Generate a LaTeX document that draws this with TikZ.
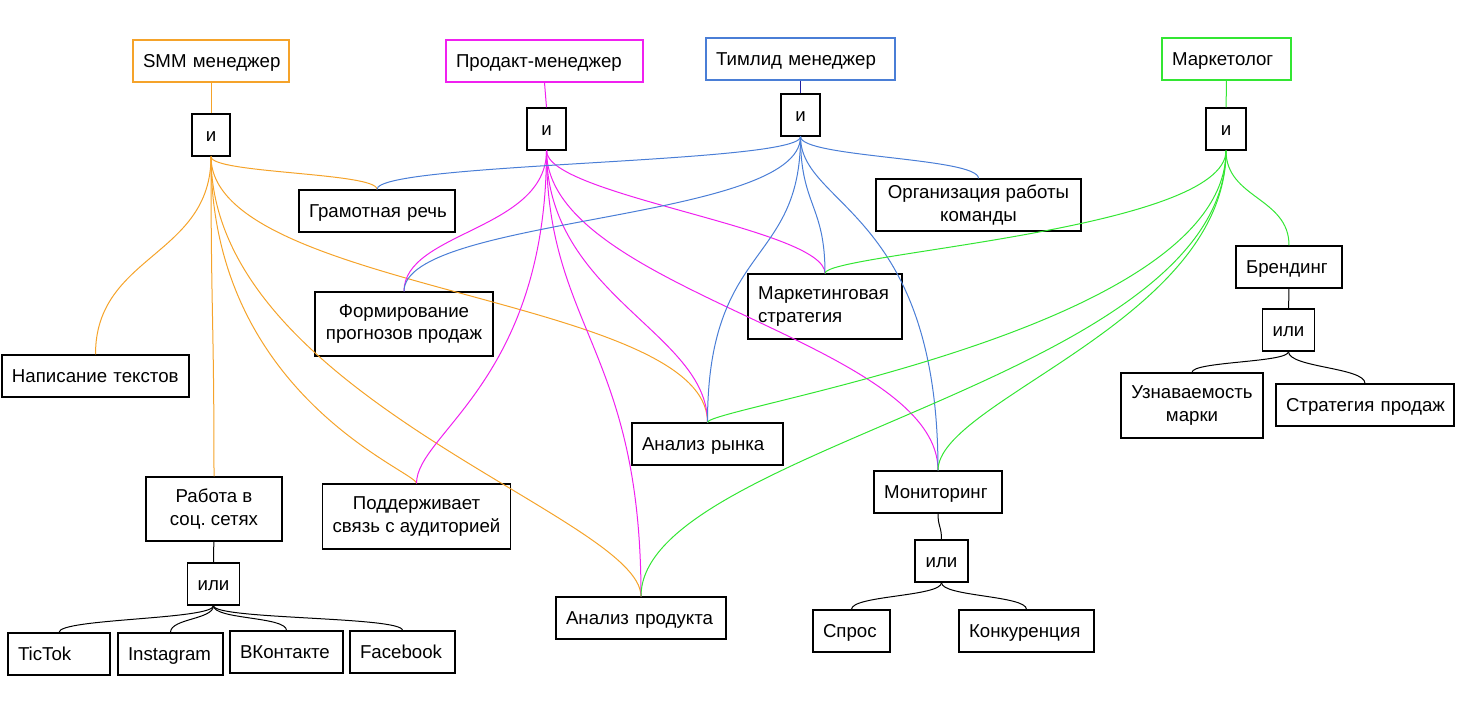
\documentclass[tikz,border=0pt]{standalone}
\usepackage{fontspec}
\setmainfont{Liberation Sans}
\usepackage{tikz}
\usetikzlibrary{positioning}

\definecolor{smmcol}{HTML}{F5A32A}
\definecolor{prodcol}{HTML}{F020F0}
\definecolor{teamcol}{HTML}{4A7ED6}
\definecolor{teamdark}{HTML}{20209F}
\definecolor{markcol}{HTML}{33E633}
\newcommand{\boxfont}{\fontsize{18.67}{22.5}\selectfont}

\begin{document}
\begin{tikzpicture}[
    x=1pt, y=-1pt,
    box/.style={draw, line width=1.25pt, inner xsep=10pt, inner ysep=0pt, minimum height=42pt, font=\boxfont},
    lbox/.style={box, text width=#1, align=left, text height=16.9pt, text depth=4pt},
    cbox/.style={box, minimum width=#1, align=center, text height=16.9pt, text depth=4pt},
    tall/.style={box, minimum width=#1, minimum height=64pt, align=center},
    link/.style={line width=1pt}
]
\useasboundingbox (0,0) rectangle (1461,717);

% roles
\node[lbox=136pt, draw=smmcol] (smm) at (211,61) {SMM~менеджер};
\node[lbox=177pt, draw=prodcol] (prod) at (544.5,61) {Продакт-менеджер};
\node[lbox=169pt, draw=teamcol] (team) at (800.5,59) {Тимлид~менеджер};
\node[lbox=109pt, draw=markcol] (market) at (1226.5,59) {Маркетолог};

% gates
\node[cbox=38pt] (smmand) at (211,135) {и};
\node[cbox=39pt] (prodand) at (546.5,129) {и};
\node[cbox=39pt] (teamand) at (800.5,115) {и};
\node[cbox=40pt] (markand) at (1226,129) {и};
\node[cbox=51pt] (socor) at (213.5,584) {или};
\node[cbox=53pt] (monor) at (941.5,561) {или};
\node[cbox=51pt] (brandor) at (1288.5,330) {или};

% skills
\node[lbox=136pt] (gram) at (377,211) {Грамотная~речь};
\node[lbox=167pt] (writing) at (95.5,376) {Написание~текстов};
\node[tall=178pt] (form) at (404,324) {Формирование\\прогнозов~продаж};
\node[tall=205pt, minimum height=52pt] (org) at (978.5,205) {Организация~работы\\команды};
\node[box, text width=134pt, align=left, minimum height=65pt] (strat) at (825,306.5) {Маркетинговая\\стратегия};
\node[lbox=86pt] (brand) at (1289,267) {Брендинг};
\node[tall=142pt, minimum height=65pt] (recog) at (1192,405.5) {Узнаваемость\\марки};
\node[lbox=158pt] (sales) at (1365,405) {Стратегия~продаж};
\node[lbox=131pt] (marketan) at (707.5,444) {Анализ~рынка};
\node[lbox=108pt] (mon) at (938,492) {Мониторинг};
\node[lbox=57pt] (demand) at (851.5,631) {Спрос};
\node[lbox=115pt] (compet) at (1026.5,631) {Конкуренция};
\node[lbox=150pt] (product) at (641,618) {Анализ~продукта};
\node[tall=136pt] (soc) at (214,509) {Работа~в\\соц.~сетях};
\node[tall=187pt, minimum height=65pt] (aud) at (416.5,516.5) {Поддерживает\\связь~с~аудиторией};
\node[lbox=82pt] (tiktok) at (59,654) {TicTok};
\node[lbox=85pt] (insta) at (170.5,654) {Instagram};
\node[lbox=93pt] (vk) at (286.5,652) {ВКонтакте};
\node[lbox=85pt] (fb) at (402.5,652) {Facebook};

% role to gate
\draw[link, smmcol] (smm) -- (smmand);
\draw[link, prodcol] (prod.south) -- (prodand.north);
\draw[link, teamdark] (team) -- (teamand);
\draw[link, markcol] (market) -- (markand);

% gate to skills
\foreach \skill/\ka/\kb in {gram/17/17, writing/100/100, soc/160/160, aud/240/12, marketan/135/126, product/240/80}
  \draw[link, smmcol] (smmand.south) .. controls +(0,\ka) and +(0,-\kb) .. (\skill.north);
\foreach \skill/\ka/\kb in {form/80/60, aud/230/50, product/178/248, marketan/145/90, mon/140/130, strat/45/45}
  \draw[link, prodcol] (prodand.south) .. controls +(0,\ka) and +(0,-\kb) .. (\skill.north);
\foreach \skill/\ka/\kb in {gram/27/27, form/85/75, marketan/130/180, strat/69/69, mon/70/260, org/21/21}
  \draw[link, teamcol] (teamand.south) .. controls +(0,\ka) and +(0,-\kb) .. (\skill.north);
\foreach \skill/\ka/\kb in {strat/80/20, marketan/180/15, product/230/150, mon/170/70, brand/48/48}
  \draw[link, markcol] (markand.south) .. controls +(0,\ka) and +(0,-\kb) .. (\skill.north);

% alternatives
\draw[link] (soc) -- (socor);
\foreach \skill in {tiktok, insta, vk, fb}
  \draw[link] (socor.south) .. controls +(0,14) and +(0,-14) .. (\skill.north);
\draw[link] (mon.south) .. controls +(0,13) and +(0,-13) .. (monor.north);
\foreach \skill in {demand, compet}
  \draw[link] (monor.south) .. controls +(0,14) and +(0,-14) .. (\skill.north);
\draw[link] (brand) -- (brandor);
\draw[link] (brandor.south) .. controls +(0,11) and +(0,-11) .. (recog.north);
\draw[link] (brandor.south) .. controls +(0,16) and +(0,-16) .. (sales.north);
\end{tikzpicture}
\end{document}
